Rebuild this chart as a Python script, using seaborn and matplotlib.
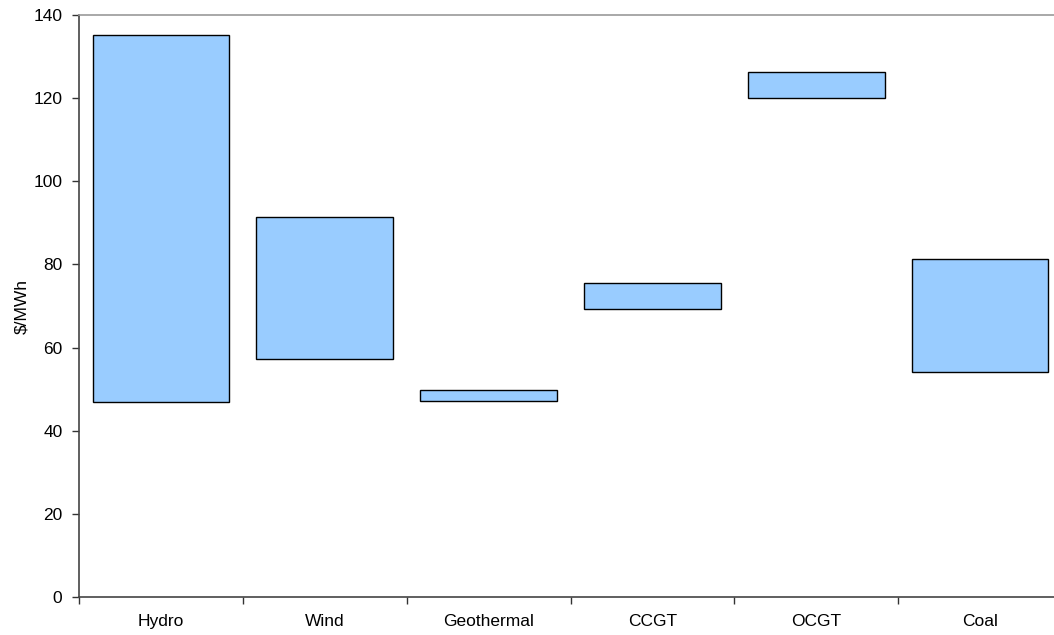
import numpy as np
import matplotlib
matplotlib.use("Agg")
import matplotlib.pyplot as plt
import seaborn as sns

# cost ranges per technology ($/MWh)
technologies = ["Hydro", "Wind", "Geothermal", "CCGT", "OCGT", "Coal"]
cost_low  = [47.0, 57.2, 47.1, 69.2, 120.0, 54.1]
cost_high = [135.3, 91.3, 49.7, 75.6, 126.4, 81.4]

BAR_COLOR = "#99CCFF"
FS = 12.5


def main():
    sns.set_style("white")
    plt.rcParams["font.family"] = ["Liberation Sans", "DejaVu Sans"]

    low = np.array(cost_low)
    span = np.array(cost_high) - low

    fig = plt.figure(figsize=(10.54, 6.35), dpi=100)
    ax = fig.add_axes([0.075, 0.0598, 0.9326, 0.9165])

    sns.barplot(
        x=technologies, y=span, bottom=low, ax=ax,
        color=BAR_COLOR, saturation=1, width=0.835,
        edgecolor="black", linewidth=1.0,
    )

    # ── Axes styling ──────────────────────────────────────────────────────────
    ax.set_ylim(0, 140)
    ax.set_xlim(-0.5, len(technologies) - 0.5)
    ax.set_yticks(range(0, 141, 20))
    ax.set_ylabel("\\$/MWh", fontsize=FS, labelpad=3, color="black")
    ax.set_xlabel("")

    ax.set_xticks(np.arange(-0.5, len(technologies), 1.0), minor=True)
    ax.tick_params(axis="x", which="major", length=0, pad=12,
                   labelsize=FS, labelcolor="black")
    ax.tick_params(axis="x", which="minor", length=5, width=1, color="#333333",
                   direction="out", bottom=True)
    ax.tick_params(axis="y", length=5, width=1, color="#333333",
                   direction="out", left=True, labelsize=FS,
                   labelcolor="black", pad=7)

    for side in ["left", "bottom"]:
        ax.spines[side].set_color("#444444")
        ax.spines[side].set_linewidth(1.2)
    ax.spines["top"].set_color("#999999")
    ax.spines["top"].set_linewidth(1.2)
    ax.spines["right"].set_visible(False)

    fig.savefig("out.png", dpi=100)


if __name__ == "__main__":
    main()
